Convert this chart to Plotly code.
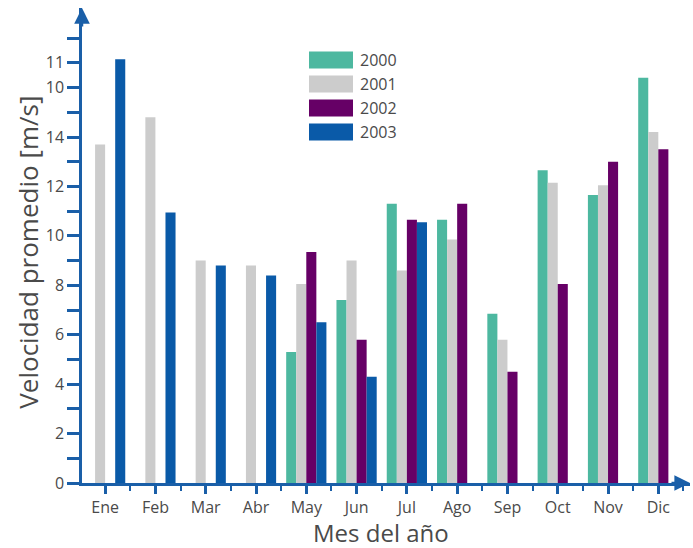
import plotly.graph_objects as go

meses = ["Ene", "Feb", "Mar", "Abr", "May", "Jun", "Jul", "Ago", "Sep", "Oct", "Nov", "Dic"]
anios = ["2000", "2001", "2002", "2003"]
v2000 = [None, None, None, None, 5.3, 7.4, 11.3, 10.65, 6.85, 12.65, 11.65, 16.4]
v2001 = [13.7, 14.8, 9.0, 8.8, 8.05, 9.0, 8.6, 9.85, 5.8, 12.15, 12.05, 14.2]
v2002 = [None, None, None, None, 9.35, 5.8, 10.65, 11.3, 4.5, 8.05, 13.0, 13.5]
v2003 = [17.15, 10.95, 8.8, 8.4, 6.5, 4.3, 10.55, None, None, None, None, None]
colores = ["#4db8a0", "#cccccc", "#660066", "#0a5aa8"]

# y tick labels as printed on the original axis
y_tickvals = list(range(0, 19))
y_ticktext = ["0", "", "2", "", "4", "", "6", "", "8", "", "10", "", "12", "", "14", "", "10", "11", ""]

eje = "#1a5fa8"
texto = "#4a4a4a"
fuente = "Open Sans"

x_pos = list(range(len(meses)))
fig = go.Figure()
for anio, vals, col in zip(anios, [v2000, v2001, v2002, v2003], colores):
    fig.add_trace(go.Bar(x=x_pos, y=vals, name=anio, marker=dict(color=col, line=dict(width=0)),
                         showlegend=False))

fig.update_layout(
    width=693, height=548,
    margin=dict(l=82, r=3, t=8, b=65),
    plot_bgcolor="white", paper_bgcolor="white",
    barmode="group", bargap=0.2, bargroupgap=0,
    font=dict(family=fuente, color=texto, size=16),
    xaxis=dict(
        range=[-0.46, 11.63], tickvals=x_pos, ticktext=meses,
        showline=True, linecolor=eje, linewidth=2.5,
        ticks="outside", ticklen=8, tickwidth=2.5, tickcolor=eje,
        minor=dict(tickvals=[i + 0.5 for i in x_pos], ticks="outside", ticklen=5, tickwidth=2, tickcolor=eje),
        showgrid=False, zeroline=False, tickfont=dict(size=16, color=texto),
    ),
    yaxis=dict(
        range=[0, 19.22], tickvals=y_tickvals, ticktext=y_ticktext,
        showline=True, linecolor=eje, linewidth=2.5,
        ticks="outside", ticklen=12, tickwidth=2.5, tickcolor=eje,
        showgrid=False, zeroline=False, tickfont=dict(size=16, color=texto),
    ),
)

# axis titles
fig.add_annotation(text="Velocidad promedio [m/s]", xref="paper", yref="paper", x=-0.088, y=0.486,
                   xanchor="center", yanchor="middle",
                   textangle=-90, showarrow=False, font=dict(size=26, color=texto))
fig.add_annotation(text="Mes del año", xref="paper", yref="paper", x=0.492, y=-0.105,
                   xanchor="center", yanchor="middle", showarrow=False, font=dict(size=24, color=texto))

# axis arrows
fig.add_annotation(x=0, y=1, xref="paper", yref="paper", ax=0, ay=20, showarrow=True,
                   arrowhead=2, arrowsize=1.25, arrowwidth=2.5, arrowcolor=eje, text="")
fig.add_annotation(x=1, y=0, xref="paper", yref="paper", ax=-20, ay=0, showarrow=True,
                   arrowhead=2, arrowsize=1.25, arrowwidth=2.5, arrowcolor=eje, text="")

# legend drawn as wide swatches
for i, (anio, col) in enumerate(zip(anios, colores)):
    yc = 60 + 24 * i
    y_top = 1 - (yc - 8 - 8.5) / 475
    y_bot = 1 - (yc - 8 + 8.5) / 475
    fig.add_shape(type="rect", xref="paper", yref="paper",
                  x0=(309 - 82) / 608, x1=(353 - 82) / 608, y0=y_bot, y1=y_top,
                  fillcolor=col, line=dict(width=0))
    fig.add_annotation(text=anio, xref="paper", yref="paper", x=(358 - 82) / 608, y=(y_top + y_bot) / 2,
                       xanchor="left", yanchor="middle", showarrow=False, font=dict(size=16, color=texto))

# the page body has a default margin; drop it so the figure sits at the window corner
fig.write_html("out.html", config={"displayModeBar": False},
               post_script="document.body.style.margin='0';")
